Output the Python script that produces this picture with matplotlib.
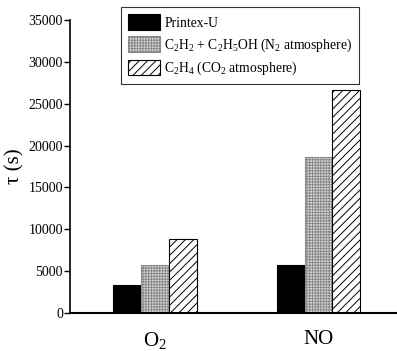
import matplotlib
matplotlib.use('Agg')
import matplotlib.pyplot as plt
import numpy as np

# data
gases = [r'O$_2$', 'NO']
printex = [3300, 5700]
c2h2_etoh = [5800, 18700]
c2h4 = [8900, 26600]
labels = ['Printex-U',
          r'C$_2$H$_2$ + C$_2$H$_5$OH (N$_2$ atmosphere)',
          r'C$_2$H$_4$ (CO$_2$ atmosphere)']

plt.rcParams['font.family'] = 'Liberation Serif'
plt.rcParams['mathtext.fontset'] = 'custom'
plt.rcParams['mathtext.rm'] = 'Liberation Serif'
plt.rcParams['mathtext.it'] = 'Liberation Serif:italic'
plt.rcParams['hatch.linewidth'] = 0.7

fig = plt.figure(figsize=(3.97, 3.51), dpi=100)
ax = fig.add_axes([0.176, 0.108, 0.824, 0.835])

x = np.arange(len(gases))
w = 0.17
ax.bar(x - w, printex, w, color='black', edgecolor='black', linewidth=0.8, label=labels[0])
ax.bar(x, c2h2_etoh, w, color='#d8d8d8', edgecolor='#8a8a8a', hatch='++++++', linewidth=0.8, label=labels[1])
ax.bar(x + w, c2h4, w, color='white', edgecolor='black', hatch='////', linewidth=0.8, label=labels[2])

ax.set_xlim(-0.52, 1.48)
ax.set_ylim(0, 35000)
ax.set_yticks(np.arange(0, 35001, 5000))
ax.set_xticks(x)
ax.set_xticklabels(gases, fontsize=15)
ax.tick_params(axis='x', length=0, pad=12)
ax.tick_params(axis='y', labelsize=10, length=4, width=1, direction='out', pad=1)
ax.set_ylabel('τ (s)', fontsize=15, labelpad=3)

ax.spines['top'].set_visible(False)
ax.spines['right'].set_visible(False)
ax.spines['left'].set_linewidth(1.2)
ax.spines['bottom'].set_linewidth(1.5)

leg = ax.legend(loc='upper left', bbox_to_anchor=(0.156, 1.043), fontsize=9.8,
                frameon=True, fancybox=False, edgecolor='black',
                handlelength=2.4, handleheight=1.4, handletextpad=0.3,
                borderpad=0.5, labelspacing=0.45, borderaxespad=0)
leg.get_frame().set_linewidth(0.8)

plt.savefig('out.png', dpi=100)
